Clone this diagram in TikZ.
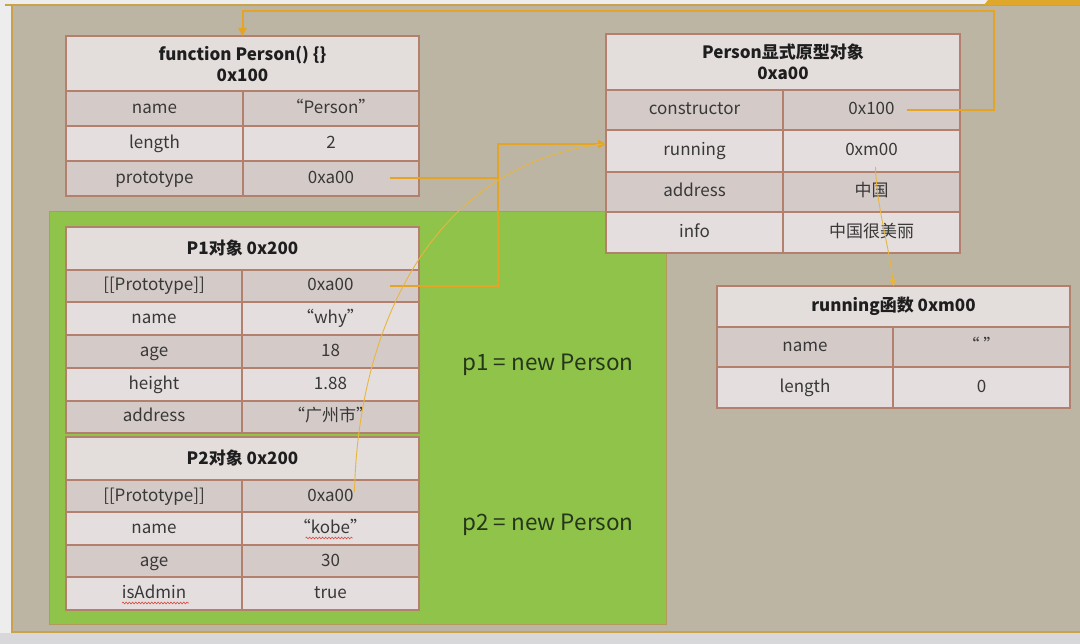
\documentclass[tikz,border=0pt]{standalone}
\usepackage{fontspec}
\setmainfont{Noto Sans CJK SC}
\usetikzlibrary{arrows.meta,decorations.pathmorphing}

\definecolor{pagebg}{HTML}{EDEDED}
\definecolor{pagebottom}{HTML}{D8D8DA}
\definecolor{khaki}{HTML}{BCB5A3}
\definecolor{framegold}{HTML}{C9A24A}
\definecolor{bandgold}{HTML}{E0A82A}
\definecolor{scopegreen}{HTML}{8FC34A}
\definecolor{scopeedge}{HTML}{B29A5C}
\definecolor{cellhead}{HTML}{E3DDDC}
\definecolor{celldark}{HTML}{D4CBC9}
\definecolor{celllight}{HTML}{E4DFDE}
\definecolor{cellline}{HTML}{B4806E}
\definecolor{celltext}{HTML}{383838}
\definecolor{headtext}{HTML}{1E1E1E}
\definecolor{linkorange}{HTML}{E4A425}
\definecolor{thinorange}{HTML}{E9B53E}
\definecolor{notetext}{HTML}{26361A}
\definecolor{spellred}{HTML}{D9473F}

\tikzset{
  cell/.style={draw=cellline, line width=1.2pt, anchor=north west, inner sep=0pt,
    outer sep=0pt, text=celltext, font=\fontsize{17}{19}\selectfont},
  valrow/.style={cell, text height=13.5pt, text depth=3.5pt},
  darkrow/.style={valrow, fill=celldark},
  lightrow/.style={valrow, fill=celllight},
  headrow/.style={cell, fill=cellhead, text=headtext, align=center,
    font=\bfseries\fontsize{17}{21}\selectfont},
  link/.style={draw=linkorange, line width=2pt},
  thinlink/.style={draw=thinorange, line width=0.9pt},
  tip/.style={-{Triangle[length=8pt,width=8pt]}},
  note/.style={text=notetext, font=\fontsize{22.5}{24}\selectfont},
  spell/.style={draw=spellred, line width=0.6pt, decorate,
    decoration={snake, amplitude=0.9pt, segment length=3.2pt}},
}

% one key/value row of a memory table
\newcommand\kvrow[9]{%
  \node[#7, minimum width=#4, minimum height=#6] (#1k) at (#2,#3) {#8};
  \node[#7, minimum width=#5, minimum height=#6] (#1v) at (#1k.north east) {#9};}

\begin{document}
\begin{tikzpicture}[x=1pt, y=-1pt]
\useasboundingbox (0,0) rectangle (1080,644);

% page and slide frame
\fill[pagebg] (0,0) rectangle (1080,644);
\fill[pagebottom] (0,633) rectangle (1080,644);
\fill[khaki] (12,5) rectangle (1080,632);
\draw[framegold, line width=1.5pt] (5,5) -- (1080,5);
\draw[framegold, line width=1.5pt] (12,5) -- (12,632) -- (1080,632);
\fill[bandgold] (988,0) -- (1080,0) -- (1080,5) -- (984,5) -- cycle;

% scope of the two instances
\draw[scopeedge, fill=scopegreen, line width=1pt] (49,212) rectangle (666,624);

% function Person
\node[headrow, minimum width=353, minimum height=55] (fnh) at (66,36)
  {function Person() \{\}\\0x100};
\kvrow{fnname}{66}{91}{177}{176}{35}{darkrow}{name}{“Person”}
\kvrow{fnlen}{66}{126}{177}{176}{35}{lightrow}{length}{2}
\kvrow{fnproto}{66}{161}{177}{176}{35}{darkrow}{prototype}{0xa00}

% Person prototype object
\node[headrow, minimum width=354, minimum height=56] (prh) at (606,34)
  {Person显式原型对象\\0xa00};
\kvrow{prcons}{606}{90}{177}{177}{40}{darkrow}{constructor}{0x100}
\kvrow{prrun}{606}{130}{177}{177}{42}{lightrow}{running}{0xm00}
\kvrow{praddr}{606}{172}{177}{177}{40}{darkrow}{address}{中国}
\kvrow{prinfo}{606}{212}{177}{177}{41}{lightrow}{info}{中国很美丽}

% running function
\node[headrow, minimum width=353, minimum height=41] (rnh) at (717,286)
  {running函数 0xm00};
\kvrow{rnname}{717}{327}{176}{177}{40}{darkrow}{name}{“\ ”}
\kvrow{rnlen}{717}{367}{176}{177}{41}{lightrow}{length}{0}

% p1 instance
\node[headrow, minimum width=353, minimum height=43] (p1h) at (66,227)
  {P1对象 0x200};
\kvrow{p1proto}{66}{270}{176}{177}{32}{darkrow}{[[Prototype]]}{0xa00}
\kvrow{p1name}{66}{302}{176}{177}{33}{lightrow}{name}{“why”}
\kvrow{p1age}{66}{335}{176}{177}{33}{darkrow}{age}{18}
\kvrow{p1height}{66}{368}{176}{177}{33}{lightrow}{height}{1.88}
\kvrow{p1addr}{66}{401}{176}{177}{32}{darkrow}{address}{“广州市”}

% p2 instance
\node[headrow, minimum width=353, minimum height=43] (p2h) at (66,437)
  {P2对象 0x200};
\kvrow{p2proto}{66}{480}{176}{177}{32}{darkrow}{[[Prototype]]}{0xa00}
\kvrow{p2name}{66}{512}{176}{177}{33}{lightrow}{name}{“kobe”}
\kvrow{p2age}{66}{545}{176}{177}{32}{darkrow}{age}{30}
\kvrow{p2admin}{66}{577}{176}{177}{33}{lightrow}{isAdmin}{true}

% spell-check marks
\draw[spell] ([xshift=-25pt,yshift=-9.5pt]p2namev.center) -- ([xshift=22pt,yshift=-9.5pt]p2namev.center);
\draw[spell] ([xshift=-32pt,yshift=-9.5pt]p2admink.center) -- ([xshift=35pt,yshift=-9.5pt]p2admink.center);

% statements
\node[note] (p1note) at (548,365) {p1 = new Person};
\node[note] (p2note) at (548,525) {p2 = new Person};

% routing points of the links
\coordinate (consturn) at (994,11);
\coordinate (protojoin) at (498,144);

% constructor -> function Person
\draw[link, tip] ([xshift=35pt]prconsv.center) -| (consturn) -| (fnh.north);
% prototype / [[Prototype]] -> prototype object
\draw[link, tip] ([xshift=59pt]fnprotov.center) -| (protojoin) -- ([yshift=7pt]prrunk.west);
\draw[link] ([xshift=59pt]p1protov.center) -| (protojoin);
% p2 [[Prototype]] -> prototype object
\draw[thinlink] ([xshift=24pt,yshift=4pt]p2protov.center)
  .. controls (358,330) and (430,165) .. ([xshift=-3pt,yshift=7pt]prrunk.west);
% running -> running function
\draw[thinlink, -{Triangle[length=7pt,width=7pt]}] ([xshift=4pt,yshift=-16pt]prrunv.center)
  .. controls (877,210) and (889,245) .. (rnh.north);
\end{tikzpicture}
\end{document}
